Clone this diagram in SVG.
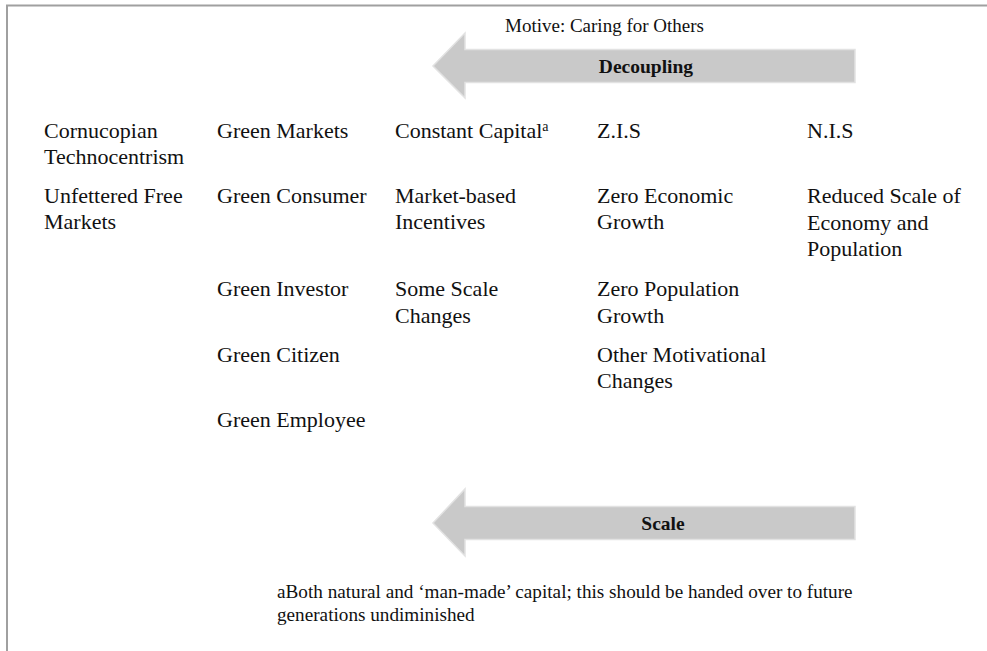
<svg xmlns="http://www.w3.org/2000/svg" width="987" height="651" viewBox="0 0 987 651">
  <style>
    .t { font-family: "Liberation Serif", "Times New Roman", serif; font-size: 22px; fill: #111; }
    .s { font-family: "Liberation Serif", "Times New Roman", serif; font-size: 19px; fill: #111; }
    .b { font-family: "Liberation Serif", "Times New Roman", serif; font-size: 19.5px; font-weight: bold; fill: #111; text-anchor: middle; }
    .f { font-family: "Liberation Serif", "Times New Roman", serif; font-size: 19.2px; fill: #111; }
    .arrow { fill: #c9c9c9; stroke: #e2e2e2; stroke-width: 1.5; }
  </style>

  <!-- frame -->
  <path d="M7 651 V5.5 H987" fill="none" stroke="#a0a0a0" stroke-width="2"/>

  <text class="s" x="505" y="32">Motive: Caring for Others</text>

  <g id="connectors">
    <g id="decoupling">
      <path class="arrow" d="M855 49.5 H465 V33 L433 66 L465 98 V82.5 H855 Z"/>
      <text class="b" x="646" y="73">Decoupling</text>
    </g>
    <g id="scale">
      <path class="arrow" d="M855 506.5 H465 V489 L433 523 L465 556 V539.5 H855 Z"/>
      <text class="b" x="663" y="530">Scale</text>
    </g>
  </g>

  <!-- column 1 -->
  <g id="cornucopian"><text class="t" x="44" y="138">Cornucopian<tspan x="44" dy="26">Technocentrism</tspan></text></g>
  <g id="unfettered"><text class="t" x="44" y="203">Unfettered Free<tspan x="44" dy="26">Markets</tspan></text></g>

  <!-- column 2 -->
  <g id="green-markets"><text class="t" x="217" y="138">Green Markets</text></g>
  <g id="green-consumer"><text class="t" x="217" y="203">Green Consumer</text></g>
  <g id="green-investor"><text class="t" x="217" y="296">Green Investor</text></g>
  <g id="green-citizen"><text class="t" x="217" y="362">Green Citizen</text></g>
  <g id="green-employee"><text class="t" x="217" y="427">Green Employee</text></g>

  <!-- column 3 -->
  <g id="constant-capital"><text class="t" x="395" y="138">Constant Capital<tspan font-size="14" dy="-7">a</tspan></text></g>
  <g id="market-incentives"><text class="t" x="395" y="203">Market-based<tspan x="395" dy="26">Incentives</tspan></text></g>
  <g id="some-scale"><text class="t" x="395" y="296">Some Scale<tspan x="395" dy="26.5">Changes</tspan></text></g>

  <!-- column 4 -->
  <g id="zis"><text class="t" x="597" y="138">Z.I.S</text></g>
  <g id="zero-economic"><text class="t" x="597" y="203">Zero Economic<tspan x="597" dy="26">Growth</tspan></text></g>
  <g id="zero-population"><text class="t" x="597" y="296">Zero Population<tspan x="597" dy="26.5">Growth</tspan></text></g>
  <g id="other-motivational"><text class="t" x="597" y="362">Other Motivational<tspan x="597" dy="26">Changes</tspan></text></g>

  <!-- column 5 -->
  <g id="nis"><text class="t" x="807" y="138">N.I.S</text></g>
  <g id="reduced-scale"><text class="t" x="807" y="203">Reduced Scale of<tspan x="807" dy="26.5">Economy and</tspan><tspan x="807" dy="26.5">Population</tspan></text></g>

  <!-- footnote -->
  <text class="f" x="277" y="598">aBoth natural and ‘man-made’ capital; this should be handed over to future<tspan x="277" dy="23">generations undiminished</tspan></text>
</svg>
